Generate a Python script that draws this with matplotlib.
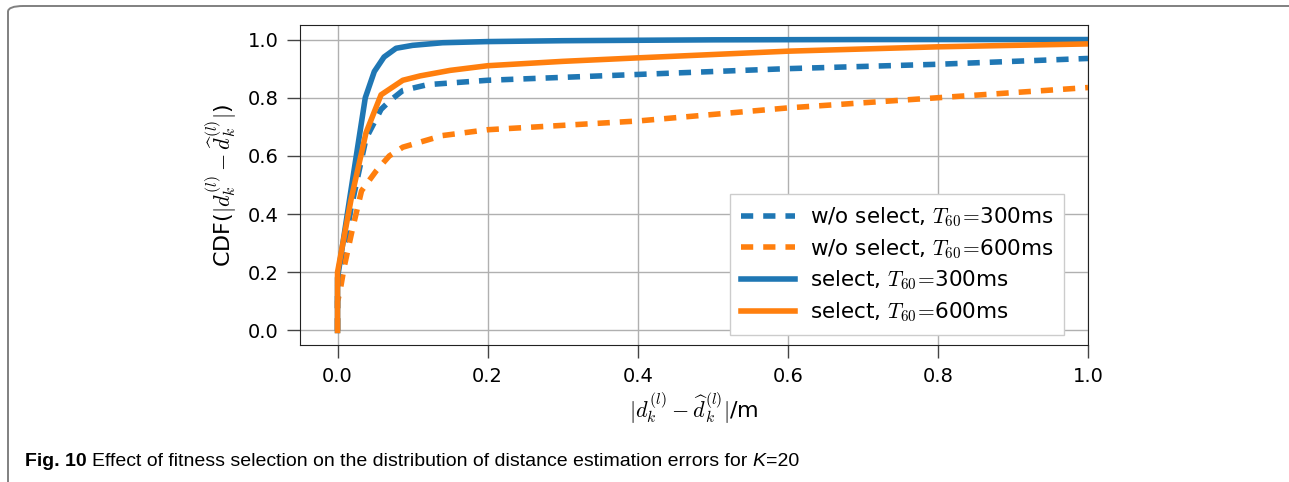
import matplotlib
matplotlib.use("Agg")
import matplotlib.pyplot as plt
from matplotlib.patches import FancyBboxPatch

# CDF curves
x_nosel_300 = [0, 0, 0.018, 0.038, 0.058, 0.07, 0.087, 0.12, 0.2, 0.3, 0.4, 0.6, 0.8, 1.0]
y_nosel_300 = [0, 0.15, 0.42, 0.66, 0.76, 0.79, 0.825, 0.845, 0.86, 0.87, 0.88, 0.90, 0.915, 0.935]

x_nosel_600 = [0, 0, 0.003, 0.009, 0.02, 0.032, 0.052, 0.069, 0.087, 0.14, 0.2, 0.3, 0.4, 0.6, 0.8, 1.0]
y_nosel_600 = [0, 0.10, 0.13, 0.22, 0.35, 0.48, 0.55, 0.60, 0.63, 0.67, 0.69, 0.705, 0.72, 0.765, 0.80, 0.835]

x_sel_300 = [0, 0, 0.016, 0.037, 0.049, 0.062, 0.078, 0.10, 0.14, 0.2, 0.3, 0.5, 0.7, 1.0]
y_sel_300 = [0, 0.18, 0.45, 0.80, 0.89, 0.94, 0.97, 0.98, 0.989, 0.993, 0.996, 0.999, 1.0, 1.0]

x_sel_600 = [0, 0, 0.018, 0.038, 0.058, 0.087, 0.11, 0.15, 0.2, 0.3, 0.4, 0.6, 0.8, 1.0]
y_sel_600 = [0, 0.2, 0.45, 0.68, 0.81, 0.86, 0.875, 0.894, 0.91, 0.925, 0.937, 0.96, 0.975, 0.985]

labels = [r"w/o select, $T_{60}\!=\!$300ms", r"w/o select, $T_{60}\!=\!$600ms",
          r"select, $T_{60}\!=\!$300ms", r"select, $T_{60}\!=\!$600ms"]
ticks = [0.0, 0.2, 0.4, 0.6, 0.8, 1.0]

plt.rcParams['mathtext.fontset'] = 'cm'
plt.rcParams['font.family'] = 'DejaVu Sans'

BLUE = '#1f77b4'
ORANGE = '#ff7f0e'

fig = plt.figure(figsize=(12.89, 4.82), dpi=100)

# rounded frame of the published figure (only top/left visible)
frame = FancyBboxPatch((8 / 1289, -0.2), 1.2, 1 - 6 / 482 + 0.2,
                       boxstyle="round,pad=0,rounding_size=0.012",
                       transform=fig.transFigure, facecolor='none',
                       edgecolor='#808080', linewidth=1.4, clip_on=False)
fig.patches.append(frame)

ax = fig.add_axes([300 / 1289, 1 - 345 / 482, 788 / 1289, 320 / 482])

dash = (2.2, 1.8)
ax.plot(x_nosel_300, y_nosel_300, color=BLUE, lw=4, dashes=dash, label=labels[0])
ax.plot(x_nosel_600, y_nosel_600, color=ORANGE, lw=4, dashes=dash, label=labels[1])
ax.plot(x_sel_300, y_sel_300, color=BLUE, lw=4, label=labels[2])
ax.plot(x_sel_600, y_sel_600, color=ORANGE, lw=4, label=labels[3])

ax.set_xlim(-0.05, 1.0)
ax.set_ylim(-0.05, 1.05)
ax.set_xticks(ticks)
ax.set_yticks(ticks)
ax.tick_params(labelsize=14, length=9.5, width=1, color='#444444', pad=6)
ax.grid(True, color='#b0b0b0', lw=1)
for s in ax.spines.values():
    s.set_color('#222222')

ax.set_xlabel(r"$|d_k^{(l)} - \widehat{d}_k^{(l)}|$/m", fontsize=16, labelpad=4)
ax.set_ylabel(r"CDF($|d_k^{(l)} - \widehat{d}_k^{(l)}|$)", fontsize=16, labelpad=6)

leg = ax.legend(loc='lower right', bbox_to_anchor=(0.9695, 0.031), borderaxespad=0,
                fontsize=15.5, handlelength=2.5, handletextpad=0.7, labelspacing=0.38,
                borderpad=0.5, fancybox=False, edgecolor='#cccccc', framealpha=1)

# caption, built from pieces so "Fig. 10" is bold and K is italic
cap_font = ['Liberation Sans Narrow', 'Liberation Sans', 'DejaVu Sans']
pieces = [("Fig. 10 ", dict(fontweight='bold')),
          ("Effect of fitness selection on the distribution of distance estimation errors for ", {}),
          ("K", dict(style='italic')),
          ("=20", {})]
fig.canvas.draw()
xpos = 25
for txt, kw in pieces:
    t = fig.text(xpos / 1289, 1 - 466 / 482, txt, fontsize=14, family=cap_font,
                 va='baseline', **kw)
    fig.canvas.draw()
    xpos = t.get_window_extent().x1

fig.savefig("out.png", dpi=100)
